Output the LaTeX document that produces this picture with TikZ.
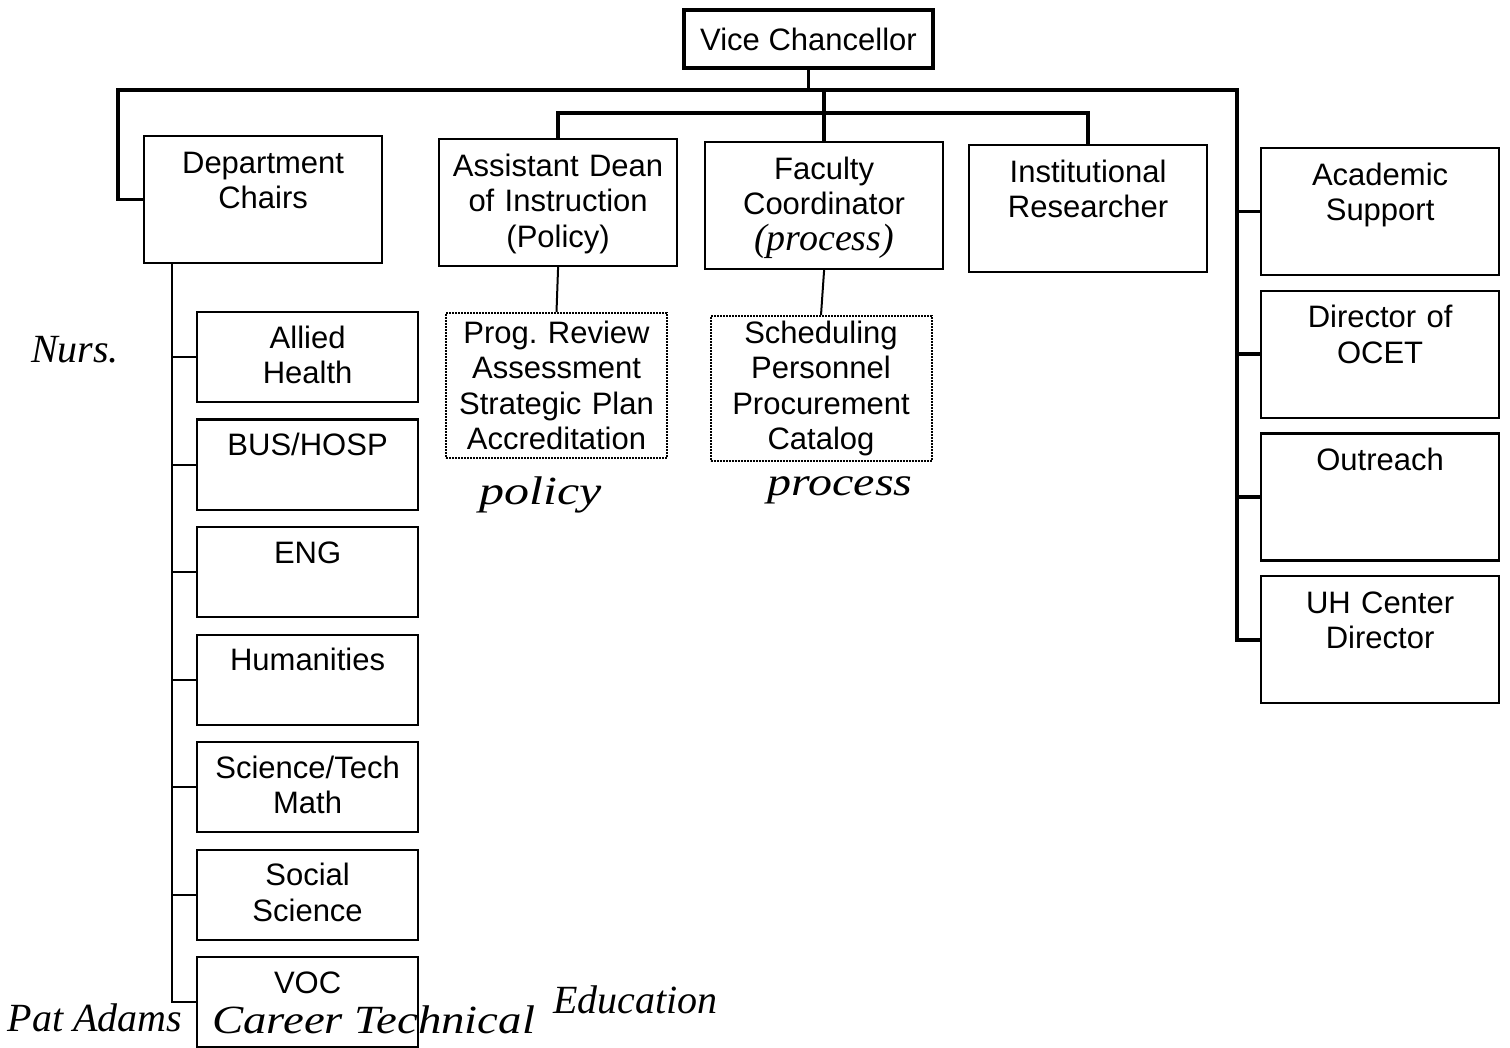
\documentclass[tikz,border=0pt]{standalone}
\usepackage{fontspec}
\setmainfont{Liberation Sans}
\newfontfamily\hand{Liberation Serif}
\tikzset{
  orgbox/.style={draw,line width=2.2pt,anchor=north west,align=center,inner xsep=8pt,inner ysep=10pt,
    font=\fontsize{31}{35.5}\selectfont},
  bigbox/.style={orgbox,text width=222pt,text height=27pt,text depth=80pt},
  smallbox/.style={orgbox,text width=205pt,text height=26pt,text depth=44pt},
  dotbox/.style={draw,densely dotted,line width=2pt,anchor=north,align=center,text width=205pt,
    inner xsep=8pt,inner ysep=2pt,minimum height=145pt,font=\fontsize{31}{35.5}\selectfont},
  spine/.style={line width=3.6pt},
  twig/.style={line width=2pt},
  hw/.style={inner sep=0pt,font=\hand\itshape\fontsize{40}{44}\selectfont}
}
\begin{document}
\begin{tikzpicture}[x=1pt,y=-1pt]
\useasboundingbox (0,0) rectangle (1510,1048);
\node[draw,line width=3.2pt,minimum width=249pt,minimum height=58pt,font=\fontsize{31}{35.5}\selectfont] (vc) at (808.5,39) {Vice Chancellor};
\node[bigbox] (chairs) at (143,135) {Department\\Chairs};
\node[bigbox] (dean) at (438,138) {Assistant Dean\\of Instruction\\(Policy)};
\node[bigbox] (coord) at (704,141) {Faculty\\Coordinator\\{\hand\itshape\fontsize{38}{35.5}\selectfont (process)}};
\node[bigbox] (res) at (968,144) {Institutional\\Researcher};
\foreach \t [count=\i] in {{Academic\\Support},{Director of\\OCET},{Outreach},{UH Center\\Director}}
  \node[bigbox] (s\i) at (1260,{147+(\i-1)*142.7}) {\t};
\foreach \t [count=\i] in {{Allied\\Health},{BUS/HOSP},{ENG},{Humanities},{Science/Tech\\Math},{Social\\Science},{VOC}}
  \node[smallbox] (d\i) at (196,{311+(\i-1)*107.5}) {\t};
\node[dotbox] (pol) at (556.5,312) {Prog.\ Review\\Assessment\\Strategic Plan\\Accreditation};
\node[dotbox] (proc) at (821,315) {Scheduling\\Personnel\\Procurement\\Catalog};
% connectors
\coordinate (tl) at (118,90);\coordinate (tr) at (1237,90);
\draw[spine](vc.south)--(vc.south|-tl);
\draw[spine](chairs.west)-|(tl)--(tr)|-(s4.west);
\foreach \i in {1,2,3}\draw[spine](tr|-s\i.west)--(s\i.west);
\draw[spine](coord.north)--(coord.north|-tl);
\draw[spine](dean.north)--++(0,-25)-|(res.north);
\draw[twig](dean.south)--(pol.north);
\draw[twig](coord.south)--(proc.north);
\draw[twig]([xshift=29pt]chairs.south west)coordinate(ctop)|-(d7.west);
\foreach \i in {1,...,6}\draw[twig](ctop|-d\i.west)--(d\i.west);
% handwritten notes
\node[hw] (nurs) at (75,350) {Nurs.};
\node[hw,xscale=1.25] (polnote) at (541,495) {policy};
\node[hw,xscale=1.2] (procnote) at (840,490) {process};
\node[hw] (pat) at (95,1018) {Pat Adams};
\node[hw,anchor=west,xscale=1.17] (cte) at (212,1020) {Career Technical};
\node[hw,anchor=west] (edu) at (553,1000) {Education};
\end{tikzpicture}
\end{document}
